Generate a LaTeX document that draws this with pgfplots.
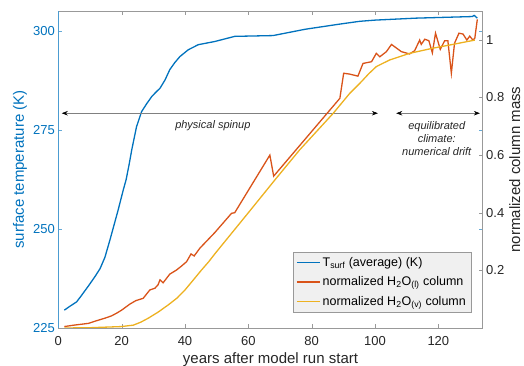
\documentclass[border=0pt]{standalone}
\usepackage{fontspec}
\setmainfont{Liberation Sans}
\usepackage{pgfplots}
\pgfplotsset{compat=1.18}
\usetikzlibrary{arrows.meta}
\definecolor{tblue}{RGB}{0,114,189}
\definecolor{torange}{RGB}{217,83,25}
\definecolor{tyellow}{RGB}{237,177,32}
\definecolor{axgray}{RGB}{38,38,38}
\begin{document}
\begin{tikzpicture}
\pgfplotsset{
  base/.style={
    scale only axis, width=424.4pt, height=317pt,
    at={(0,0)}, anchor=south west,
    xmin=0, xmax=134,
    tick align=inside,
    major tick length=4.2pt,
    /pgf/number format/assume math mode=true,
    ticklabel style={font=\fontsize{13}{15}\selectfont},
    label style={font=\fontsize{15}{17}\selectfont},
  }
}
\begin{axis}[base,
  ymin=225, ymax=305,
  ytick={225,250,275,300},
  xtick={0,20,...,120},
  separate axis lines,
  x axis line style={draw=black!40, line width=0.5pt},
  y axis line style={draw=tblue!70, line width=0.5pt},
  xtick pos=both, ytick pos=both,
  xtick style={draw=black!40},
  ytick style={draw=tblue!60},
  yticklabel style={text=tblue},
  xticklabel style={text=axgray, yshift=-4.5pt},
  xlabel={years after model run start},
  ylabel={surface temperature (K)},
  xlabel style={text=axgray, at={(rel axis cs:0.5,-0.1)}, anchor=center},
  ylabel style={text=tblue, at={(rel axis cs:-0.0902,0.5)}, anchor=center},
]
\addplot[tblue, line width=1.3pt] coordinates {
(1.9,229.5) (3.5,230.4) (5.8,231.6) (7.4,233.3) (9.5,235.6) (11.6,238) (13.2,240) (14.7,242.8) (16.3,247.2) (17.6,251) (18.9,254.8) (20.5,259.8) (21.4,262.4) (22.3,266) (23.2,270) (24.7,275.8) (26.3,279.6) (27.9,281.6) (29.5,283.4) (30.8,284.5) (32.1,285.5) (33.7,287.6) (35.2,290.2) (36.8,292) (38.4,293.5) (41,295.2) (44.2,296.5) (49.4,297.3) (55.7,298.6) (67.8,298.8) (78,300.4) (88.9,301.7) (95.2,302.4) (100,302.7) (113,303.2) (130.7,303.6) (131.3,303.9) (132.3,303.2)
};
\draw[black!50, line width=0.5pt, {Stealth[black,length=6pt,width=4.5pt,inset=2pt]}-{Stealth[black,length=6pt,width=4.5pt,inset=2pt]}] (axis cs:1.1,279.2) -- (axis cs:100.9,279.2);
\draw[black!50, line width=0.5pt, {Stealth[black,length=6pt,width=4.5pt,inset=2pt]}-{Stealth[black,length=6pt,width=4.5pt,inset=2pt]}] (axis cs:106.7,279.2) -- (axis cs:133.1,279.2);
\node[font=\fontsize{11}{13}\selectfont\itshape, text=axgray] at (axis cs:48.8,276.0) {physical spinup};
\node[font=\fontsize{11}{13}\selectfont\itshape, text=axgray, align=center] at (axis cs:119.5,272.8) {equilibrated\\climate:\\numerical drift};
\end{axis}
\begin{axis}[base,
  ymin=0, ymax=1.1,
  ytick={0.2,0.4,0.6,0.8,1}, yticklabels={0.2,0.4,0.6,0.8,1},
  axis x line=none, axis y line*=right,
  y axis line style={draw=black!40, line width=0.5pt, -},
  ytick style={draw=black!40},
  yticklabel style={text=axgray},
  ylabel={normalized column mass},
  ylabel style={text=axgray, at={(rel axis cs:1.0755,0.5)}, anchor=center},
  legend cell align=left,
  legend image code/.code={\draw[#1] (0pt,0pt) -- (23pt,0pt);},
  legend style={at={(rel axis cs:0.972,0.051)}, anchor=south east, outer sep=0pt, fill=black!6, draw=black!40, font=\fontsize{12.5}{14}\selectfont, inner xsep=3pt, inner ysep=3pt, row sep=5pt},
]
\addlegendimage{tblue, line width=1.5pt}
\addlegendentry{T\textsubscript{surf} (average) (K)}
\addlegendimage{torange, line width=1.5pt}
\addlegendentry{normalized H\textsubscript{2}O\textsubscript{(l)} column}
\addlegendimage{tyellow, line width=1.5pt}
\addlegendentry{normalized H\textsubscript{2}O\textsubscript{(v)} column}
\addplot[torange, line width=1.3pt, forget plot] coordinates {
(1.9,0.005) (5,0.01) (9.5,0.016) (12,0.025) (14.7,0.034) (16.8,0.042) (18.5,0.052) (20,0.062) (22.6,0.083) (24.5,0.095) (26.8,0.103) (28.9,0.132) (30.5,0.138) (31.5,0.15) (32.1,0.167) (33.1,0.157) (35.2,0.187) (37.3,0.201) (38.9,0.215) (40.5,0.23) (41.9,0.257) (42.9,0.25) (44.7,0.277) (49.4,0.331) (54.7,0.398) (55.7,0.40) (66.8,0.60) (68,0.527) (88.9,0.797) (90.1,0.884) (92,0.881) (94.6,0.874) (96.2,0.918) (98.9,0.924) (100.4,0.953) (101.5,0.941) (103.6,0.959) (105.2,0.984) (108.3,0.959) (110.9,0.951) (112.5,0.962) (114.1,0.999) (114.6,0.984) (115.7,1.002) (117,0.997) (118.1,0.955) (119.1,1.023) (120.6,0.967) (122,0.997) (123,0.997) (124.1,0.884) (125.1,0.988) (126.5,1.023) (127.8,1.02) (129,0.999) (129.9,1.013) (130.9,0.999) (131.5,1.005) (132.3,1.071)
};
\addplot[tyellow, line width=1.3pt, forget plot] coordinates {
(1.9,0) (10,0.001) (20,0.005) (23.7,0.01) (26,0.02) (28.4,0.034) (31.5,0.055) (34.7,0.08) (37.5,0.104) (40,0.132) (42.5,0.165) (45.2,0.201) (47.5,0.23) (49.4,0.257) (60,0.40) (68.4,0.514) (76.2,0.618) (86.8,0.745) (92,0.814) (95.2,0.849) (98,0.882) (100.4,0.907) (104.6,0.93) (110.9,0.953) (118.3,0.971) (123.6,0.982) (131.5,0.999)
};
\end{axis}
\pgfresetboundingbox
\useasboundingbox (-58.3pt,-38pt) rectangle (465.7pt,328pt);
\end{tikzpicture}
\end{document}
